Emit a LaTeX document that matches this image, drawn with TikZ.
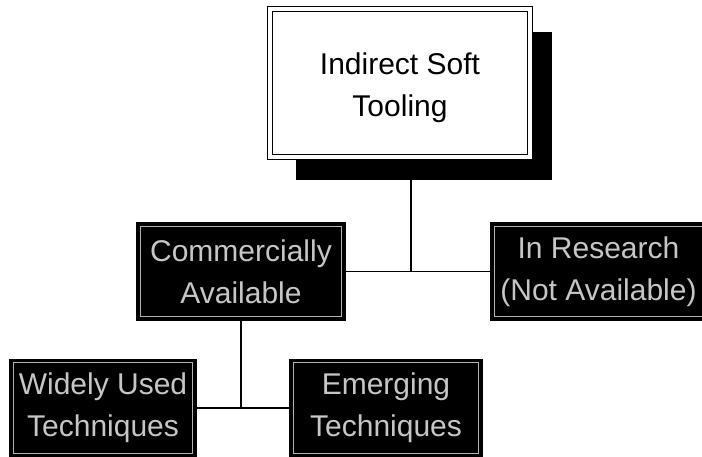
\documentclass[tikz,border=0pt]{standalone}
\usepackage{fontspec}
\setmainfont{Liberation Sans}
\begin{document}
\begin{tikzpicture}[x=1pt,y=1pt,
  every node/.style={font=\fontsize{30}{42}\selectfont, align=center, inner sep=0pt},
  headbox/.style={draw=black, line width=1.2pt, fill=white, minimum width=260, minimum height=148,
    double=white, double distance=3.5pt},
  shadowbox/.style={fill=black, minimum width=256, minimum height=148},
  darkbox/.style={fill=black, draw=black, line width=1.2pt, text=gray!45, minimum height=97},
  rim/.style={draw=gray!60, line width=1pt},
  link/.style={draw=black, line width=1.1pt}
]
\clip (0,0) rectangle (702,-456);
\useasboundingbox (0,0) rectangle (702,-456);
\fill[white] (0,0) rectangle (702,-456);

% headline box with its drop shadow
\node[shadowbox] (shadow) at (424,-106) {};
\node[headbox] (top) at (400,-83) {};
\node (toptitle) at (400,-88) {Indirect Soft\\Tooling};

% second and third tier boxes
\node[darkbox, minimum width=208] (ca) at (241,-271.5) {Commercially\\Available};
\node[darkbox, minimum width=215] (ru) at (598.5,-271.5) {In Research\\(Not Available)};
\node[darkbox, minimum width=186] (bl) at (103,-408) {Widely Used\\Techniques};
\node[darkbox, minimum width=192] (bm) at (386,-408) {Emerging\\Techniques};

% light inner rims of the dark boxes
\foreach \n in {ca,ru,bl,bm}{
  \draw[rim] ([shift={(4,-4)}]\n.north west) rectangle ([shift={(-4,4)}]\n.south east);
}

% connectors
\coordinate (j1) at (411,-271.5);
\draw[link] (j1 |- shadow.south) -- (j1);
\draw[link] (ca.east) -- (ru.west);
\draw[link] (ca.south) -- (ca.south |- bl.east);
\draw[link] (bl.east) -- (bm.west);
\end{tikzpicture}
\end{document}
